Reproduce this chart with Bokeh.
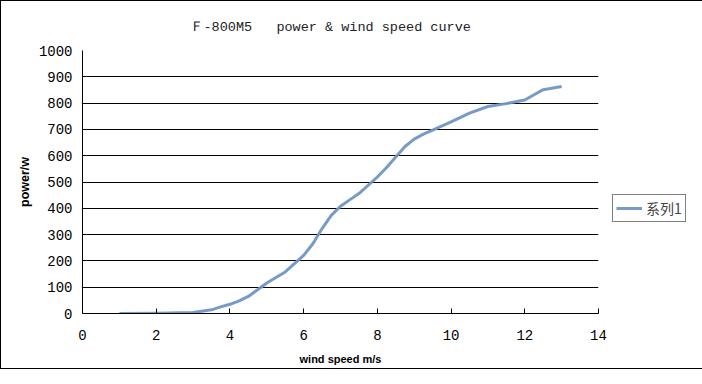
from bokeh.plotting import figure
from bokeh.models import Legend, LegendItem, FixedTicker, Range1d
from bokeh.embed import file_html
from bokeh.resources import INLINE

# data
wind_speed = [1, 2, 3, 3.5, 3.75, 4, 4.25, 4.5, 4.75, 5, 5.5, 5.75, 6, 6.25,
              6.5, 6.75, 7, 7.25, 7.5, 8, 8.25, 8.5, 8.75, 9, 9.25, 9.5, 10,
              10.5, 11, 11.5, 12, 12.25, 12.5, 13]
power = [0, 1, 4, 14, 25, 35, 48, 65, 90, 116, 158, 190, 221, 265,
         323, 373, 408, 432, 456, 519, 555, 595, 635, 663, 682, 697, 729,
         762, 787, 798, 812, 832, 851, 863]
x_ticks = [0, 2, 4, 6, 8, 10, 12, 14]
y_ticks = [0, 100, 200, 300, 400, 500, 600, 700, 800, 900, 1000]
series_name = "系列1"
title_text = "Ｆ-800M5\u00a0\u00a0 power & wind speed curve"

p = figure(frame_width=516, frame_height=263, output_backend="svg",
           toolbar_location=None,
           x_range=Range1d(0, 14), y_range=Range1d(0, 1000),
           min_border_left=81, min_border_right=88, min_border_top=49,
           min_border_bottom=55, background_fill_color="white",
           border_fill_color="white", outline_line_color=None)

p.styles = {"border": "1px solid black", "box-sizing": "border-box"}

p.title.text = title_text
p.title.align = "left"
p.title.offset = 107
p.title.standoff = 32
p.title.text_font = "Liberation Mono"
p.title.text_font_size = "13.5px"
p.title.text_font_style = "normal"
p.title.text_color = "#222222"

r = p.line(wind_speed, power, line_color="#6f96c4", line_width=3, line_alpha=0.95,
           line_join="round")

p.xgrid.visible = False
p.ygrid.grid_line_color = "black"
p.ygrid.grid_line_alpha = 1
p.ygrid.ticker = FixedTicker(ticks=y_ticks)

for ax in (p.xaxis[0], p.yaxis[0]):
    ax.axis_line_color = "black"
    ax.major_tick_line_color = "black"
    ax.minor_tick_line_color = None
    ax.major_label_text_font = "Liberation Mono"
    ax.major_label_text_font_size = "14px"
    ax.major_label_text_color = "black"
    ax.axis_label_text_font = "Liberation Sans"
    ax.axis_label_text_font_size = "11px"
    ax.axis_label_text_font_style = "bold"
    ax.axis_label_text_color = "black"

p.xaxis.ticker = FixedTicker(ticks=x_ticks)
p.xaxis.major_tick_in = 5
p.xaxis.major_tick_out = 0
p.xaxis.major_label_standoff = 16
p.xaxis.axis_label = "wind speed m/s"
p.xaxis.axis_label_standoff = 10

p.yaxis.ticker = FixedTicker(ticks=y_ticks)
p.yaxis.major_tick_in = 0
p.yaxis.major_tick_out = 0
p.yaxis.major_label_standoff = 10
p.yaxis.axis_label = "power/w"
p.yaxis.axis_label_standoff = 4
p.yaxis.axis_label_text_font_size = "12.5px"

legend = Legend(items=[LegendItem(label=series_name, renderers=[r])],
                location=(14, 91), orientation="vertical",
                border_line_color="black", border_line_width=1,
                background_fill_color="white", background_fill_alpha=1,
                label_text_font="Noto Sans CJK SC", label_text_font_size="14px",
                glyph_width=26, glyph_height=14, padding=3, spacing=0,
                margin=0, label_standoff=4, label_height=14)
p.add_layout(legend, "right")

open("out.html", "w").write(file_html(p, INLINE))
